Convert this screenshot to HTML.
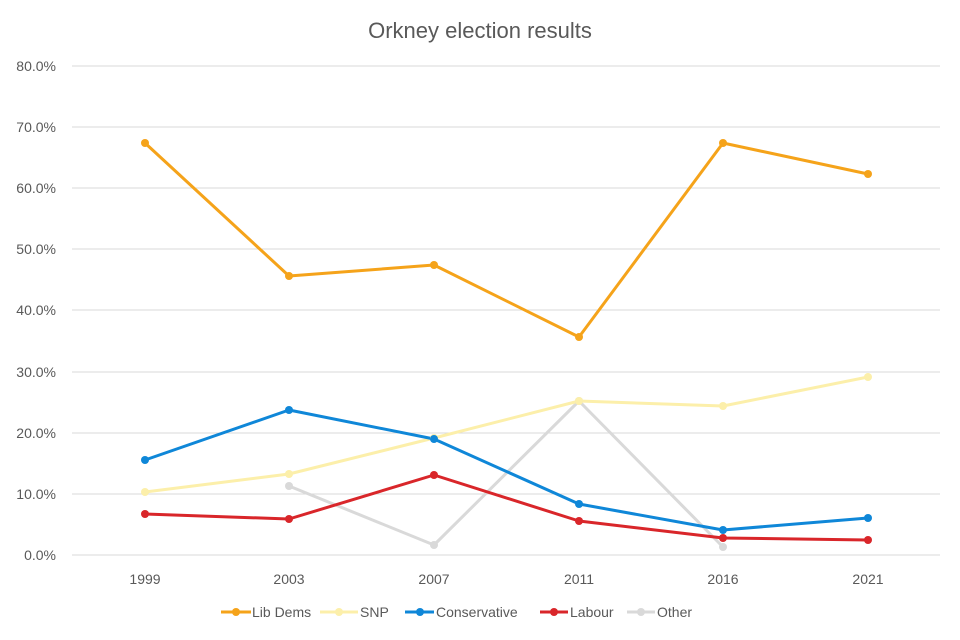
<!DOCTYPE html>
<html><head><meta charset="utf-8"><style>
body{margin:0;background:#fff;}
svg{display:block;font-family:"Liberation Sans",sans-serif;}
</style></head><body>
<svg width="960" height="640" viewBox="0 0 960 640">
<rect width="960" height="640" fill="#fff"/>
<text x="480" y="38" text-anchor="middle" font-size="22" fill="#595959">Orkney election results</text>
<g stroke="#d9d9d9" stroke-width="1">
<line x1="72" x2="940" y1="66" y2="66"/><line x1="72" x2="940" y1="127" y2="127"/>
<line x1="72" x2="940" y1="188" y2="188"/><line x1="72" x2="940" y1="249" y2="249"/>
<line x1="72" x2="940" y1="310" y2="310"/><line x1="72" x2="940" y1="372" y2="372"/>
<line x1="72" x2="940" y1="433" y2="433"/><line x1="72" x2="940" y1="494" y2="494"/>
<line x1="72" x2="940" y1="555" y2="555"/>
</g>
<g font-size="14" fill="#595959" text-anchor="end">
<text x="56" y="71">80.0%</text><text x="56" y="132">70.0%</text><text x="56" y="193">60.0%</text>
<text x="56" y="254">50.0%</text><text x="56" y="315">40.0%</text><text x="56" y="377">30.0%</text>
<text x="56" y="438">20.0%</text><text x="56" y="499">10.0%</text><text x="56" y="560">0.0%</text>
</g>
<g font-size="14" fill="#595959" text-anchor="middle">
<text x="145" y="584">1999</text><text x="289" y="584">2003</text><text x="434" y="584">2007</text>
<text x="579" y="584">2011</text><text x="723" y="584">2016</text><text x="868" y="584">2021</text>
</g>
<g fill="none" stroke-width="3" stroke-linejoin="round">
<polyline stroke="#d9d9d9" points="289,486 434,545 579,401 723,547"/>
<polyline stroke="#f5a31a" points="145,143 289,276 434,265 579,337 723,143 868,174"/>
<polyline stroke="#fcefaa" points="145,492 289,474 434,438 579,401 723,406 868,377"/>
<polyline stroke="#0f87d8" points="145,460 289,410 434,439 579,504 723,530 868,518"/>
<polyline stroke="#d9262a" points="145,514 289,519 434,475 579,521 723,538 868,540"/>
</g>
<g fill="#d9d9d9"><circle cx="289" cy="486" r="4"/><circle cx="434" cy="545" r="4"/><circle cx="579" cy="401" r="4"/><circle cx="723" cy="547" r="4"/></g>
<g fill="#f5a31a"><circle cx="145" cy="143" r="4"/><circle cx="289" cy="276" r="4"/><circle cx="434" cy="265" r="4"/><circle cx="579" cy="337" r="4"/><circle cx="723" cy="143" r="4"/><circle cx="868" cy="174" r="4"/></g>
<g fill="#fcefaa"><circle cx="145" cy="492" r="4"/><circle cx="289" cy="474" r="4"/><circle cx="434" cy="438" r="4"/><circle cx="579" cy="401" r="4"/><circle cx="723" cy="406" r="4"/><circle cx="868" cy="377" r="4"/></g>
<g fill="#0f87d8"><circle cx="145" cy="460" r="4"/><circle cx="289" cy="410" r="4"/><circle cx="434" cy="439" r="4"/><circle cx="579" cy="504" r="4"/><circle cx="723" cy="530" r="4"/><circle cx="868" cy="518" r="4"/></g>
<g fill="#d9262a"><circle cx="145" cy="514" r="4"/><circle cx="289" cy="519" r="4"/><circle cx="434" cy="475" r="4"/><circle cx="579" cy="521" r="4"/><circle cx="723" cy="538" r="4"/><circle cx="868" cy="540" r="4"/></g>
<g stroke-width="3">
<line x1="221" x2="251" y1="612" y2="612" stroke="#f5a31a"/><circle cx="236" cy="612" r="4" fill="#f5a31a"/>
<line x1="320" x2="358" y1="612" y2="612" stroke="#fcefaa"/><circle cx="339" cy="612" r="4" fill="#fcefaa"/>
<line x1="405" x2="434" y1="612" y2="612" stroke="#0f87d8"/><circle cx="420" cy="612" r="4" fill="#0f87d8"/>
<line x1="540" x2="568" y1="612" y2="612" stroke="#d9262a"/><circle cx="554" cy="612" r="4" fill="#d9262a"/>
<line x1="627" x2="655" y1="612" y2="612" stroke="#d9d9d9"/><circle cx="641" cy="612" r="4" fill="#d9d9d9"/>
</g>
<g font-size="14" fill="#595959">
<text x="252" y="617">Lib Dems</text><text x="360" y="617">SNP</text><text x="436" y="617">Conservative</text>
<text x="570" y="617">Labour</text><text x="657" y="617">Other</text>
</g>
</svg>
</body></html>
